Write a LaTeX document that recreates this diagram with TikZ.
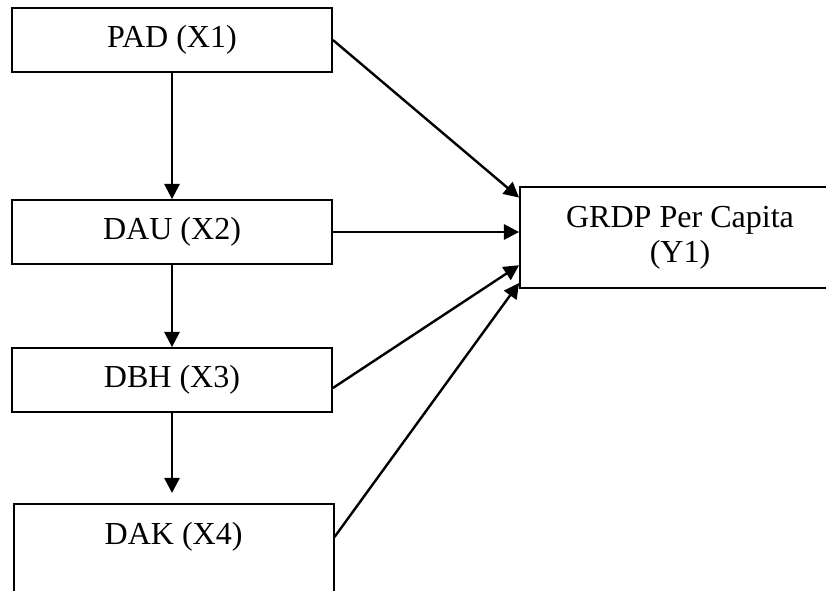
\documentclass[tikz,border=0pt]{standalone}
\usepackage{fontspec}
\setmainfont{Liberation Serif}
\usetikzlibrary{arrows.meta}

\begin{document}
\begin{tikzpicture}[>={Triangle[length=0.38cm,width=0.38cm]},
  var/.style={draw,line width=0.045cm,minimum width=8cm,minimum height=1.6cm,inner sep=0pt,
    font=\fontsize{22.8}{24.9}\selectfont},
  link/.style={->,line width=0.06cm}]
  \useasboundingbox (0,0) rectangle (20.65,-14.75);
  \clip (0,0) rectangle (20.65,-14.75);
  \node[var] (pad) at (4.3,-1.0) {PAD (X1)};
  \node[var] (dau) at (4.3,-5.8) {DAU (X2)};
  \node[var] (dbh) at (4.3,-9.5) {DBH (X3)};
  \node[var,minimum height=0pt,text height=1.01cm,text depth=1.42cm,anchor=north] (dak) at (4.34,-12.575) {DAK (X4)};
  \node[var,minimum height=2.525cm,align=center] (grdp) at (17.0,-5.94) {GRDP Per Capita\\(Y1)};
  % chain on the left
  \draw[link] (pad) -- (dau);
  \draw[link] (dau) -- (dbh);
  \draw[link,shorten >=0.25cm] (dbh.south) -- (dbh.south |- dak.north);
  % into GRDP
  \draw[link] (pad.east) -- ([yshift=1cm]grdp.west);
  \draw[link] (dau.east) -- (dau.east -| grdp.west);
  \draw[link] ([yshift=-0.2cm]dbh.east) -- ([yshift=-0.69cm]grdp.west);
  \draw[link] ([yshift=-0.85cm]dak.north east) -- ([yshift=0.15cm]grdp.south west);
\end{tikzpicture}
\end{document}
